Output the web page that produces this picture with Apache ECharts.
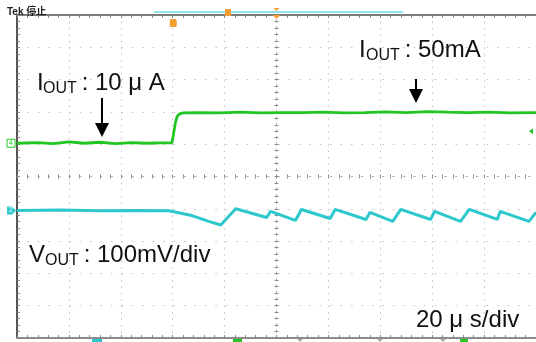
<!DOCTYPE html>
<html>
<head>
<meta charset="utf-8">
<script src="https://cdn.jsdelivr.net/npm/echarts@6/dist/echarts.min.js"></script>
<style>
html,body{margin:0;padding:0;background:#fff}
#main{width:536px;height:342px}
</style>
</head>
<body>
<div id="main"></div>
<script>
// time in us from screen centre (20us/div), level in divisions from centre
var greenT = [-100,-92,-86,-80,-74,-68,-62,-56,-50,-45,-40.3,-39.6,-39.0,-38.3,-37.5,-36,-30,-22,-14,-6,2,10,18,26,34,42,50,58,66,74,82,90,100];
var greenV = [1.03,1.05,1.02,1.07,1.03,1.06,1.02,1.05,1.03,1.04,1.04,1.35,1.65,1.85,1.93,1.97,1.98,1.97,1.99,1.97,1.98,1.98,1.99,1.97,1.98,2.00,1.98,2.01,1.99,1.98,1.99,1.97,1.98];
var cyanT = [-100,-83.5,-68,-53,-41.5,-32.6,-26.1,-21.5,-15.7,-3.8,-2.3,7.3,9.6,20.7,22.6,34.5,36.0,44.8,47.9,59.4,60.9,70.9,74.3,85.1,86.2,97.3,100];
var cyanV = [-1.05,-1.04,-1.06,-1.05,-1.06,-1.21,-1.39,-1.50,-1.00,-1.27,-1.08,-1.36,-1.02,-1.30,-1.02,-1.33,-1.11,-1.39,-1.02,-1.33,-1.08,-1.39,-1.02,-1.33,-1.08,-1.39,-1.11];
var triggerTime = -40;
var triggerLevel = 1.4;
var xMin = -100, xMax = 100, xStep = 20;
var yMin = -5, yMax = 5, yStep = 1;

var GREEN = '#22c622', CYAN = '#2cc8cc', ORANGE = '#f2a033';

function zip(a, b) {
  var out = [];
  for (var i = 0; i < a.length; i++) out.push([a[i], b[i]]);
  return out;
}

var chart = echarts.init(document.getElementById('main'), null, {renderer: 'canvas'});

function xAx(extra) {
  return Object.assign({
    type: 'value', min: xMin, max: xMax, interval: xStep,
    axisLabel: {show: false}, splitLine: {show: false}
  }, extra);
}
function yAx(extra) {
  return Object.assign({
    type: 'value', min: yMin, max: yMax, interval: yStep,
    axisLabel: {show: false}, splitLine: {show: false}
  }, extra);
}
var tickDark = {color: '#8a8a8a', width: 1};

chart.setOption({
  animation: false,
  backgroundColor: '#fff',
  grid: {left: 17, top: 15, width: 522, height: 323, containLabel: false},
  xAxis: [
    // bottom border + vertical grid
    xAx({position: 'bottom', axisLine: {onZero: false, lineStyle: {color: '#8c8c8c', width: 2}},
      axisTick: {show: true, inside: true, length: 3, lineStyle: tickDark},
      minorTick: {show: true, splitNumber: 5, length: 3, lineStyle: tickDark},
      splitLine: {show: true, lineStyle: {color: '#c2c2c2', width: 1, type: [1.5, 4.96]}}}),
    // top border
    xAx({position: 'top', axisLine: {onZero: false, lineStyle: {color: '#7a7a7a', width: 2}},
      axisTick: {show: true, inside: true, length: 3, lineStyle: tickDark},
      minorTick: {show: true, splitNumber: 5, length: 3, lineStyle: tickDark}}),
    // centre horizontal line, ticks both sides
    xAx({position: 'bottom', axisLine: {onZero: true, onZeroAxisIndex: 0, lineStyle: {color: '#b0b0b0', width: 1, type: [1.5, 8.94]}},
      axisTick: {show: true, inside: true, length: 2, lineStyle: tickDark},
      minorTick: {show: true, splitNumber: 5, length: 2, lineStyle: tickDark}}),
    xAx({position: 'bottom', axisLine: {show: false, onZero: true, onZeroAxisIndex: 0},
      axisTick: {show: true, inside: false, length: 2, lineStyle: tickDark},
      minorTick: {show: true, splitNumber: 5, length: 2, lineStyle: tickDark}})
  ],
  yAxis: [
    // left border + horizontal grid
    yAx({position: 'left', axisLine: {onZero: false, lineStyle: {color: '#555', width: 2}},
      axisTick: {show: true, inside: true, length: 3, lineStyle: tickDark},
      minorTick: {show: true, splitNumber: 5, length: 3, lineStyle: tickDark},
      splitLine: {show: true, lineStyle: {color: '#c2c2c2', width: 1, type: [1.5, 8.94]}}}),
    // centre vertical line, ticks both sides
    yAx({position: 'left', axisLine: {onZero: true, onZeroAxisIndex: 0, lineStyle: {color: '#b0b0b0', width: 1, type: [1.5, 4.96]}},
      axisTick: {show: true, inside: true, length: 2, lineStyle: tickDark},
      minorTick: {show: true, splitNumber: 5, length: 2, lineStyle: tickDark}}),
    yAx({position: 'left', axisLine: {show: false, onZero: true, onZeroAxisIndex: 0},
      axisTick: {show: true, inside: false, length: 2, lineStyle: tickDark},
      minorTick: {show: true, splitNumber: 5, length: 2, lineStyle: tickDark}})
  ],
  series: [
    {name: 'IOUT', type: 'line', xAxisIndex: 0, yAxisIndex: 0, data: zip(greenT, greenV),
      showSymbol: false, clip: true, lineStyle: {color: GREEN, width: 2.8}, z: 5},
    {name: 'VOUT', type: 'line', xAxisIndex: 0, yAxisIndex: 0, data: zip(cyanT, cyanV),
      showSymbol: false, clip: true, lineStyle: {color: CYAN, width: 3}, z: 5}
  ]
});

function px(t, v) { return chart.convertToPixel({xAxisIndex: 0, yAxisIndex: 0}, [t, v]); }

var gL = px(xMin, greenV[0]);
var cL = px(xMin, cyanV[0]);
var trg = px(triggerTime, yMax);
var lvl = px(xMax, triggerLevel);
var ctr = px(0, yMax);

var txt = {fill: '#111', fontFamily: 'Liberation Sans, Arial, Noto Sans CJK SC', verticalAlign: 'middle'};
function T(x, y, s, size) {
  return {type: 'text', x: x, y: y, z: 20, style: Object.assign({}, txt, {text: s, fontSize: size})};
}
function arrow(x, y0, y1) {
  return [
    {type: 'line', z: 20, shape: {x1: x, y1: y0, x2: x, y2: y1 - 12}, style: {stroke: '#000', lineWidth: 2}},
    {type: 'polygon', z: 20, shape: {points: [[x - 7, y1 - 14], [x + 7, y1 - 14], [x, y1]]}, style: {fill: '#000'}}
  ];
}

var g = [];
// header
g.push({type: 'text', x: 7, y: 12.5, z: 20, style: {text: 'Tek 停止', fill: '#222', fontSize: 10, fontWeight: 'bold',
  fontFamily: 'Liberation Sans, Noto Sans CJK SC', verticalAlign: 'middle'}});
g.push({type: 'line', z: 20, shape: {x1: 154, y1: 12, x2: 403, y2: 12}, style: {stroke: '#8fe3ea', lineWidth: 2}});
g.push({type: 'rect', z: 21, shape: {x: 225, y: 9, width: 6, height: 7}, style: {fill: ORANGE}});
g.push({type: 'polygon', z: 21, shape: {points: [[ctr[0] - 3, 8], [ctr[0] + 3, 8], [ctr[0], 11]]}, style: {fill: ORANGE}});
g.push({type: 'polygon', z: 21, shape: {points: [[ctr[0] - 4, 15], [ctr[0] + 4, 15], [ctr[0], 19]]}, style: {fill: ORANGE}});
g.push({type: 'rect', z: 21, shape: {x: trg[0] - 3, y: 19, width: 7, height: 8, r: 1.5}, style: {fill: ORANGE}});
// channel markers
g.push({type: 'rect', z: 21, shape: {x: 7, y: gL[1] - 4, width: 8, height: 8}, style: {fill: '#fff', stroke: GREEN, lineWidth: 1}});
g.push({type: 'text', x: 11, y: gL[1], z: 22, style: {text: '4', fill: GREEN, fontSize: 7, fontFamily: 'Liberation Sans',
  align: 'center', verticalAlign: 'middle'}});
g.push({type: 'polygon', z: 21, shape: {points: [[7, cL[1] - 4], [12, cL[1] - 4], [16, cL[1]], [12, cL[1] + 4], [7, cL[1] + 4]]}, style: {fill: CYAN}});
g.push({type: 'text', x: 11, y: cL[1], z: 22, style: {text: '2', fill: '#fff', fontSize: 7, fontFamily: 'Liberation Sans',
  align: 'center', verticalAlign: 'middle'}});
g.push({type: 'polygon', z: 21, shape: {points: [[lvl[0] - 7, lvl[1]], [lvl[0] - 3, lvl[1] - 3], [lvl[0] - 3, lvl[1] + 3]]}, style: {fill: GREEN}});
// bottom markers
g.push({type: 'rect', z: 21, shape: {x: 92, y: 339, width: 10, height: 3}, style: {fill: CYAN}});
g.push({type: 'rect', z: 21, shape: {x: 233, y: 339, width: 9, height: 3}, style: {fill: GREEN}});
g.push({type: 'rect', z: 21, shape: {x: 460, y: 339, width: 8, height: 3}, style: {fill: GREEN}});
[300, 380, 443].forEach(function (x) {
  g.push({type: 'polygon', z: 21, shape: {points: [[x - 3, 339], [x + 3, 339], [x, 342]]}, style: {fill: '#aaa'}});
});
// annotations
g.push(T(37, 83, 'I', 24), T(43, 89, 'OUT', 16), T(75, 83, ' : 10 μ A', 24));
g.push(T(359, 50, 'I', 24), T(366, 55.5, 'OUT', 16), T(398, 50, ' : 50mA', 24));
g.push(T(29, 255, 'V', 24), T(45, 261, 'OUT', 16), T(77, 255, ' : 100mV/div', 24));
g.push(T(416, 320, '20 μ s/div', 24));
g = g.concat(arrow(102, 98, 137), arrow(416, 79, 103));

chart.setOption({graphic: g});
</script>
</body>
</html>
